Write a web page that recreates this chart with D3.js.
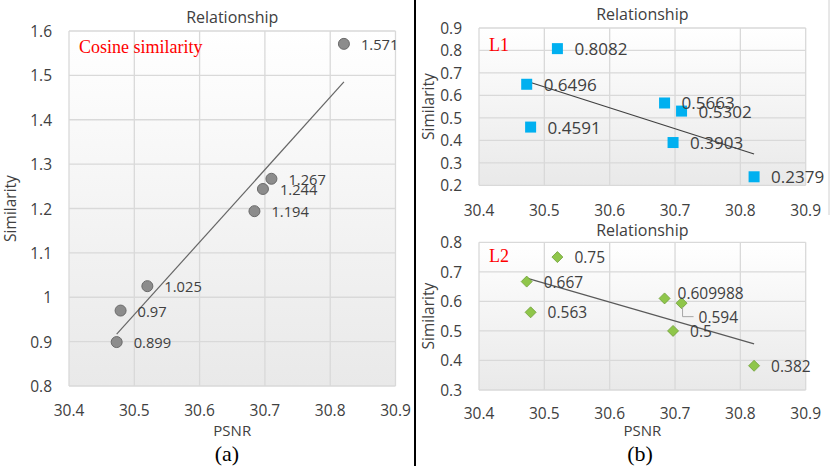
<!DOCTYPE html>
<html>
<head>
<meta charset="utf-8">
<script src="https://cdn.jsdelivr.net/npm/d3@7"></script>
<style>
  body { margin: 0; background: #fff; }
  svg text { font-family: "Open Sans", Lato, sans-serif; fill: #404040; }
</style>
</head>
<body>
<div id="chart"></div>
<script>
// PSNR values shared by all three panels
const psnr = [30.473, 30.479, 30.520, 30.684, 30.697, 30.710, 30.821];
const cosineSim = [0.899, 0.97, 1.025, 1.194, 1.244, 1.267, 1.571];
const l1Sim = [0.6496, 0.4591, 0.8082, 0.5663, 0.3903, 0.5302, 0.2379];
const l2Sim = [0.667, 0.563, 0.75, 0.609988, 0.5, 0.594, 0.382];
const l2Labels = ['0.667', '0.563', '0.75', '0.609988', '0.5', '0.594', '0.382'];
const xTicks = [30.4, 30.5, 30.6, 30.7, 30.8, 30.9];
const cosTicks = [0.8, 0.9, 1, 1.1, 1.2, 1.3, 1.4, 1.5, 1.6];
const l1Ticks = [0.2, 0.3, 0.4, 0.5, 0.6, 0.7, 0.8, 0.9];
const l2Ticks = [0.3, 0.4, 0.5, 0.6, 0.7, 0.8];

const W = 831, H = 466;
const svg = d3.select('#chart').append('svg')
    .attr('width', W).attr('height', H);

// plot area gradient (white to light grey)
const defs = svg.append('defs');
const grad = defs.append('linearGradient').attr('id', 'plotBg')
    .attr('x1', 0).attr('y1', 0).attr('x2', 0).attr('y2', 1);
grad.append('stop').attr('offset', '0%').attr('stop-color', '#ffffff');
grad.append('stop').attr('offset', '100%').attr('stop-color', '#e9e9e9');

// least squares trendline
function fitLine(xs, ys){
    let mx = d3.mean(xs), my = d3.mean(ys);
    let sxy = d3.sum(xs, (x,i)=>(x-mx)*(ys[i]-my));
    let sxx = d3.sum(xs, x=>(x-mx)*(x-mx));
    let b = sxy/sxx;
    return x => my + b*(x-mx);
}

function drawPanel(p){
    let x = d3.scaleLinear().domain([30.4, 30.9]).range([p.left, p.right]);
    let y = d3.scaleLinear().domain(d3.extent(p.yTicks)).range([p.bottom, p.top]);
    let g = svg.append('g');

    g.append('rect')
        .attr('x', p.left).attr('y', p.top)
        .attr('width', p.right-p.left).attr('height', p.bottom-p.top)
        .attr('fill', 'url(#plotBg)');

    // grid
    g.append('g').selectAll('line').data(xTicks).enter().append('line')
        .attr('x1', d=>x(d)).attr('x2', d=>x(d))
        .attr('y1', p.top).attr('y2', p.bottom)
        .attr('stroke', '#d9d9d9').attr('stroke-width', 1.3);
    g.append('g').selectAll('line').data(p.yTicks).enter().append('line')
        .attr('x1', p.left).attr('x2', p.right)
        .attr('y1', d=>y(d)).attr('y2', d=>y(d))
        .attr('stroke', '#d9d9d9').attr('stroke-width', 1.3);

    // tick labels
    g.append('g').selectAll('text').data(xTicks).enter().append('text')
        .attr('x', d=>x(d)).attr('y', p.xTickY)
        .attr('text-anchor', 'middle').attr('dominant-baseline', 'central')
        .style('font-size', '15.5px')
        .text(d=>d.toFixed(1));
    g.append('g').selectAll('text').data(p.yTicks).enter().append('text')
        .attr('x', p.left-17).attr('y', d=>y(d))
        .attr('text-anchor', 'end').attr('dominant-baseline', 'central')
        .style('font-size', '15.5px')
        .text(d=>d3.format('')(+d.toFixed(1)));

    // titles
    g.append('text').attr('x', (p.left+p.right)/2).attr('y', p.titleY)
        .attr('text-anchor', 'middle').attr('dominant-baseline', 'central')
        .style('font-size', '16px').text('Relationship');
    g.append('text')
        .attr('transform', `translate(${p.left-p.yTitleOff},${(p.top+p.bottom)/2}) rotate(-90)`)
        .attr('text-anchor', 'middle').attr('dominant-baseline', 'central')
        .style('font-size', '15.5px').text('Similarity');
    if(p.showPsnr){
        g.append('text').attr('x', (p.left+p.right)/2).attr('y', 430)
            .attr('text-anchor', 'middle').attr('dominant-baseline', 'central')
            .style('font-size', '15px').text('PSNR');
    }
    g.append('text').attr('x', p.left+10).attr('y', p.tagY)
        .attr('dominant-baseline', 'central')
        .style('font-family', '"Liberation Serif", "Times New Roman", serif')
        .style('font-size', '18px').style('fill', '#ff0000')
        .text(p.tag);

    // trendline
    let f = fitLine(psnr, p.values);
    let x0 = d3.min(psnr), x1 = d3.max(psnr);
    g.append('line')
        .attr('x1', x(x0)).attr('y1', y(f(x0)))
        .attr('x2', x(x1)).attr('y2', y(f(x1)))
        .attr('stroke', p.trendColor).attr('stroke-width', 1.2);

    // markers
    let pts = g.append('g').selectAll('g').data(p.values).enter().append('g')
        .attr('transform', (d,i)=>`translate(${x(psnr[i])},${y(d)})`);
    if(p.marker=='circle'){
        pts.append('circle').attr('r', 5.5)
            .attr('fill', '#8c8c8c').attr('stroke', '#6a6a6a').attr('stroke-width', 1);
    }else if(p.marker=='square'){
        pts.append('rect').attr('x', -5.5).attr('y', -5.5)
            .attr('width', 11).attr('height', 11)
            .attr('fill', '#00b0f0');
    }else{
        pts.append('path').attr('d', 'M0,-5.5L5.5,0L0,5.5L-5.5,0Z')
            .attr('fill', '#8fc64a').attr('stroke', '#6f9e38').attr('stroke-width', 0.8);
    }

    // data labels
    let labels = p.labels || p.values.map(String);
    p.values.forEach((d,i)=>{
        let nudge = (p.nudge && p.nudge[i]) || [0,0];
        let px = x(psnr[i]), py = y(d);
        if(nudge[1] > 8){
            g.append('polyline')
                .attr('points', `${px+1},${py+4} ${px+1},${py+nudge[1]} ${px+nudge[0]+12},${py+nudge[1]}`)
                .attr('fill', 'none').attr('stroke', '#a6a6a6').attr('stroke-width', 1);
        }
        g.append('text')
            .attr('x', px+17+nudge[0]).attr('y', py+nudge[1])
            .attr('dominant-baseline', 'central')
            .style('font-size', p.labelSize)
            .text(labels[i]);
    });
}

// (a) cosine similarity
drawPanel({left: 69, right: 395.5, top: 31, bottom: 386,
    yTicks: cosTicks, values: cosineSim, marker: 'circle',
    xTickY: 410, titleY: 17, tagY: 47, tag: 'Cosine similarity', yTitleOff: 59,
    trendColor: '#666666', showPsnr: true, labelSize: '14.7px'});

// (b) L1
drawPanel({left: 479, right: 805.7, top: 28, bottom: 185.3,
    yTicks: l1Ticks, values: l1Sim, marker: 'square',
    xTickY: 210, titleY: 14, tagY: 45, tag: 'L1', yTitleOff: 51,
    trendColor: '#404040', showPsnr: false, labelSize: '17px'});

// (b) L2
drawPanel({left: 479, right: 805.7, top: 242.3, bottom: 390,
    yTicks: l2Ticks, values: l2Sim, labels: l2Labels, marker: 'diamond',
    xTickY: 413, titleY: 230, tagY: 256, tag: 'L2', yTitleOff: 51,
    trendColor: '#595959', showPsnr: true, labelSize: '15.5px',
    nudge: {3: [-4, -5], 5: [0, 13.5]}});

// separator and captions
svg.append('line').attr('x1', 415).attr('x2', 415).attr('y1', 0).attr('y2', H)
    .attr('stroke', '#000').attr('stroke-width', 2);
svg.append('line').attr('x1', 829).attr('x2', 829).attr('y1', 0).attr('y2', 215)
    .attr('stroke', '#d0d0d0').attr('stroke-width', 1);
svg.selectAll('text.cap').data(['(a)', '(b)']).enter().append('text')
    .attr('class', 'cap')
    .attr('x', (d,i)=>i==0 ? 227 : 640).attr('y', 453)
    .attr('text-anchor', 'middle').attr('dominant-baseline', 'central')
    .style('font-family', '"Liberation Serif", "Times New Roman", serif')
    .style('font-size', '22px').style('fill', '#000')
    .text(d=>d);
</script>
</body>
</html>
